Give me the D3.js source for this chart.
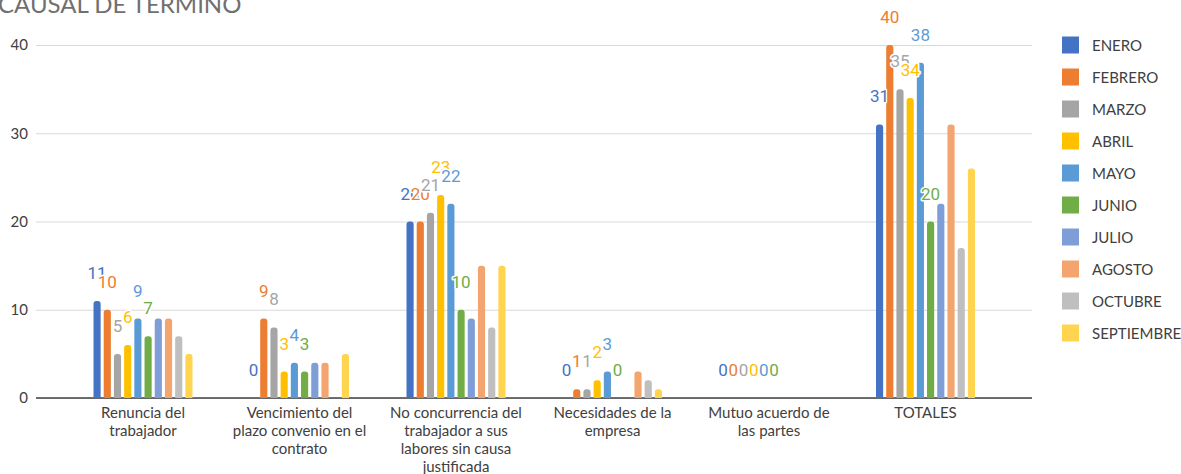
<!DOCTYPE html>
<html>
<head>
<meta charset="utf-8">
<script src="https://cdn.jsdelivr.net/npm/d3@7"></script>
<style>
  body { margin: 0; background: #fff; }
  svg { display: block; }
</style>
</head>
<body>
<svg id="chart" width="1181" height="474"></svg>
<script>
// Causes of contract termination, monthly counts
const categories = [
  "Renuncia del trabajador",
  "Vencimiento del plazo convenio en el contrato",
  "No concurrencia del trabajador a sus labores sin causa justificada",
  "Necesidades de la empresa",
  "Mutuo acuerdo de las partes",
  "TOTALES"
];
const months = ["ENERO", "FEBRERO", "MARZO", "ABRIL", "MAYO", "JUNIO", "JULIO", "AGOSTO", "OCTUBRE", "SEPTIEMBRE"];
const monthColors = ["#4472C4", "#ED7D31", "#A5A5A5", "#FFC000", "#5B9BD5", "#70AD47", "#7F9ED8", "#F3A46F", "#BFBFBF", "#FFD44F"];

const enero      = [11, 0, 20, 0, 0, 31];
const febrero    = [10, 9, 20, 1, 0, 40];
const marzo      = [5, 8, 21, 1, 0, 35];
const abril      = [6, 3, 23, 2, 0, 34];
const mayo       = [9, 4, 22, 3, 0, 38];
const junio      = [7, 3, 10, 0, 0, 20];
const julio      = [9, 4, 9, 0, 0, 22];
const agosto     = [9, 4, 15, 3, 0, 31];
const octubre    = [7, 0, 8, 2, 0, 17];
const septiembre = [5, 5, 15, 1, 0, 26];

const seriesValues = [enero, febrero, marzo, abril, mayo, junio, julio, agosto, octubre, septiembre];
const labelledMonths = ["ENERO", "FEBRERO", "MARZO", "ABRIL", "MAYO", "JUNIO"];
const yTicks = [0, 10, 20, 30, 40];
const title = "CAUSAL DE TERMINO";

const series = months.map((m, i) => ({
  name: m,
  color: monthColors[i],
  values: categories.map((c, j) => ({ category: c, value: seriesValues[i][j] }))
}));

const svg = d3.select("#chart");
const plotLeft = 36, plotRight = 1032, plotTop = 45, plotBottom = 398;

const y = d3.scaleLinear().domain([0, 40]).range([plotBottom, plotTop]);
const x = d3.scaleBand().domain(categories).range([64.75, 1003.75]);
const xs = d3.scaleBand().domain(months).range([-49.5, 49.5]).paddingInner(0.3);

// Title
svg.append("text")
  .attr("x", -2).attr("y", 13)
  .attr("font-family", "Lato, 'Open Sans', sans-serif")
  .attr("font-weight", 400)
  .attr("font-size", 24)
  .attr("fill", "#707070")
  .text(title);

// Value axis with gridlines
const yAxis = svg.append("g")
  .attr("transform", `translate(${plotLeft},0)`)
  .call(d3.axisLeft(y).tickValues(yTicks).tickSize(-(plotRight - plotLeft)).tickPadding(8));
yAxis.select(".domain").remove();
yAxis.selectAll(".tick line").attr("stroke", "#D9D9D9").attr("stroke-width", 1.2);
yAxis.selectAll(".tick text")
  .attr("font-family", "Lato, sans-serif")
  .attr("font-size", 15)
  .attr("fill", "#404040");

// Category axis
const xAxis = svg.append("g")
  .attr("transform", `translate(0,${plotBottom})`)
  .call(d3.axisBottom(x).tickSize(0).tickPadding(0));
xAxis.select(".domain").remove();
svg.append("line")
  .attr("x1", plotLeft).attr("x2", plotRight)
  .attr("y1", plotBottom).attr("y2", plotBottom)
  .attr("stroke", "#404040").attr("stroke-width", 1.4);

xAxis.selectAll(".tick text")
  .attr("font-family", "Lato, sans-serif")
  .attr("font-size", 15)
  .attr("fill", "#404040")
  .attr("y", 20)
  .attr("dy", 0)
  .call(wrap, 140);

function wrap(texts, width) {
  texts.each(function () {
    const text = d3.select(this);
    const words = text.text().split(/\s+/);
    const yPos = +text.attr("y");
    const lineH = 18;
    text.text(null);
    let line = [];
    let lineNo = 0;
    let tspan = text.append("tspan").attr("x", 0).attr("y", yPos);
    for (const w of words) {
      line.push(w);
      tspan.text(line.join(" "));
      if (tspan.node().getComputedTextLength() > width && line.length > 1) {
        line.pop();
        tspan.text(line.join(" "));
        line = [w];
        lineNo++;
        tspan = text.append("tspan").attr("x", 0).attr("y", yPos + lineNo * lineH).text(w);
      }
    }
  });
}

// Bars with rounded tops
function barPath(x0, w, top, bottom) {
  const h = bottom - top;
  const r = Math.min(3, h, w / 2);
  return `M${x0},${bottom}V${top + r}A${r},${r} 0 0 1 ${x0 + r},${top}H${x0 + w - r}A${r},${r} 0 0 1 ${x0 + w},${top + r}V${bottom}Z`;
}

const groups = svg.append("g").selectAll("g")
  .data(series)
  .join("g")
  .attr("fill", d => d.color);

groups.selectAll("path")
  .data(d => d.values.filter(v => v.value > 0).map(v => ({ ...v, name: d.name })))
  .join("path")
  .attr("d", v => barPath(x(v.category) + x.bandwidth() / 2 + xs(v.name), xs.bandwidth(), y(v.value), y(0)));

// Data labels for the first six months
const labelLayer = svg.append("g");
series.filter(s => labelledMonths.includes(s.name)).forEach(s => {
  labelLayer.append("g")
    .selectAll("text")
    .data(s.values)
    .join("text")
    .attr("x", v => x(v.category) + x.bandwidth() / 2 + xs(s.name) + xs.bandwidth() / 2)
    .attr("y", v => y(v.value) - 22)
    .attr("text-anchor", "middle")
    .attr("font-family", "Roboto, sans-serif")
    .attr("font-size", 17)
    .attr("fill", s.color)
    .attr("stroke", "#fff")
    .attr("stroke-width", 3)
    .attr("stroke-linejoin", "round")
    .attr("paint-order", "stroke")
    .text(v => v.value);
});

// Legend
const legend = svg.append("g").selectAll("g")
  .data(series)
  .join("g")
  .attr("transform", (d, i) => `translate(1062,${45 + i * 32})`);
legend.append("rect")
  .attr("x", 0).attr("y", -8.5)
  .attr("width", 17).attr("height", 17)
  .attr("fill", d => d.color);
legend.append("text")
  .attr("x", 30).attr("y", 5.5)
  .attr("font-family", "Lato, sans-serif")
  .attr("font-size", 15)
  .attr("fill", "#404040")
  .text(d => d.name);
</script>
</body>
</html>
